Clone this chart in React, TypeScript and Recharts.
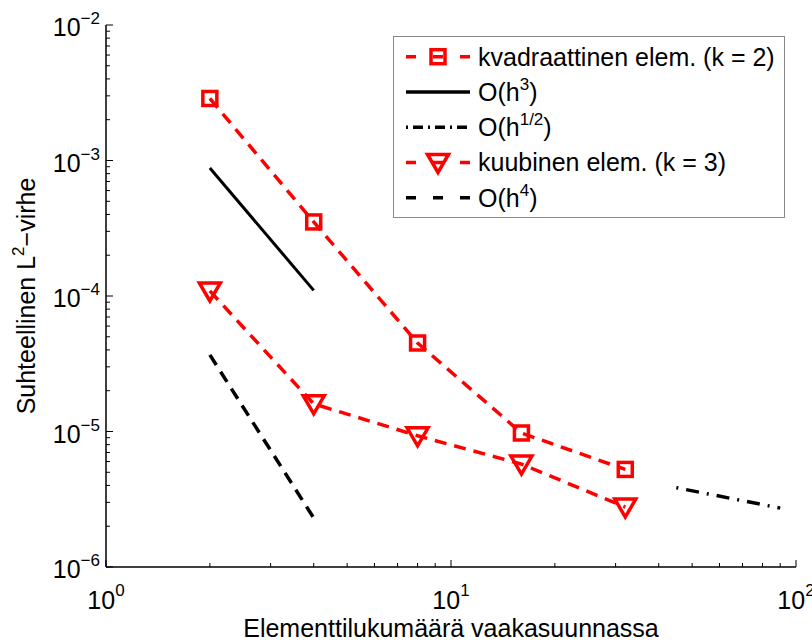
import React from 'react';
import { ComposedChart, Line, XAxis, YAxis, Legend } from 'recharts';

// elements per direction vs relative L2 error
const elements = [2, 4, 8, 16, 32];
const quadraticError = [2.87e-3, 3.52e-4, 4.5e-5, 9.75e-6, 5.25e-6];
const cubicError = [1.09e-4, 1.6e-5, 9.3e-6, 5.75e-6, 2.77e-6];

// reference slopes
const h3X = [2, 4];
const h3Y = [8.8e-4, 1.1e-4];
const hHalfX = [45, 90];
const hHalfY = [3.85e-6, 2.72e-6];
const h4X = [2, 4];
const h4Y = [3.68e-5, 2.3e-6];

const xTicks = [1, 2, 3, 4, 5, 6, 7, 8, 9, 10, 20, 30, 40, 50, 60, 70, 80, 90, 100];
const xMajor = [1, 10, 100];
const yTicks = [
  1e-6, 2e-6, 3e-6, 4e-6, 5e-6, 6e-6, 7e-6, 8e-6, 9e-6,
  1e-5, 2e-5, 3e-5, 4e-5, 5e-5, 6e-5, 7e-5, 8e-5, 9e-5,
  1e-4, 2e-4, 3e-4, 4e-4, 5e-4, 6e-4, 7e-4, 8e-4, 9e-4,
  1e-3, 2e-3, 3e-3, 4e-3, 5e-3, 6e-3, 7e-3, 8e-3, 9e-3,
  1e-2,
];
const yMajor = [1e-6, 1e-5, 1e-4, 1e-3, 1e-2];

const toRows = (xs: number[], ys: number[]) => xs.map((x, i) => ({ x, y: ys[i] }));

const FONT = '"Liberation Sans", Arial, Helvetica, sans-serif';
const RED = '#ff0000';

const expLabel = (v: number) => {
  const e = Math.round(Math.log10(v));
  return e < 0 ? '\u2212' + Math.abs(e) : String(e);
};

const isMajor = (list: number[], v: number) => list.some((m) => Math.abs(m - v) / m < 1e-9);

const BottomTick = (props: any) => {
  const { x, y, payload } = props;
  const major = isMajor(xMajor, payload.value);
  return (
    <g>
      <line x1={x} x2={x} y1={y} y2={y - (major ? 7 : 4)} stroke="#000" strokeWidth={1} />
      {major && (
        <text x={x} y={y + 42} textAnchor="middle" fontSize={25} fontFamily={FONT} fill="#000">
          10<tspan dy={-13} fontSize={17}>{expLabel(payload.value)}</tspan>
        </text>
      )}
    </g>
  );
};

const TopTick = (props: any) => {
  const { x, y, payload } = props;
  const major = isMajor(xMajor, payload.value);
  return <line x1={x} x2={x} y1={y} y2={y + (major ? 7 : 4)} stroke="#000" strokeWidth={1} />;
};

const LeftTick = (props: any) => {
  const { x, y, payload } = props;
  const major = isMajor(yMajor, payload.value);
  return (
    <g>
      <line x1={x} x2={x + (major ? 7 : 4)} y1={y} y2={y} stroke="#000" strokeWidth={1} />
      {major && (
        <text x={x - 6} y={y + 11} textAnchor="end" fontSize={25} fontFamily={FONT} fill="#000">
          10<tspan dy={-12} fontSize={17}>{expLabel(payload.value)}</tspan>
        </text>
      )}
    </g>
  );
};

const RightTick = (props: any) => {
  const { x, y, payload } = props;
  const major = isMajor(yMajor, payload.value);
  return <line x1={x} x2={x - (major ? 7 : 4)} y1={y} y2={y} stroke="#000" strokeWidth={1} />;
};

const Square = ({ cx, cy }: { cx: number; cy: number }) => (
  <rect x={cx - 7} y={cy - 7} width={14} height={14} fill="none" stroke={RED} strokeWidth={3.5} />
);

const Triangle = ({ cx, cy }: { cx: number; cy: number }) => (
  <path
    d={`M${cx - 10.5},${cy - 8} L${cx + 10.5},${cy - 8} L${cx},${cy + 10} Z`}
    fill="none"
    stroke={RED}
    strokeWidth={3.5}
  />
);

const legendRows = [
  { label: 'kvadraattinen elem. (k = 2)', sup: '', color: RED, dash: '10 17 10 17 10', marker: 'square' },
  { label: 'O(h', sup: '3', color: '#000', dash: '', marker: '' },
  { label: 'O(h', sup: '1/2', color: '#000', dash: '2 5 10 5', marker: '' },
  { label: 'kuubinen elem. (k = 3)', sup: '', color: RED, dash: '10 17 10 17 10', marker: 'triangle' },
  { label: 'O(h', sup: '4', color: '#000', dash: '10 17 10 17 10', marker: '' },
];

const LegendBox = () => (
  <div style={{ width: 392, height: 182, border: '1px solid #888', background: '#fff', boxSizing: 'border-box' }}>
    <svg width={390} height={180} style={{ display: 'block' }}>
      {legendRows.map((r, i) => {
        const cy = 19.7 + i * 35.25;
        return (
          <g key={i}>
            <line x1={12} x2={76} y1={cy} y2={cy} stroke={r.color} strokeWidth={3.5} strokeDasharray={r.dash || undefined} />
            {r.marker === 'square' && <Square cx={44} cy={cy} />}
            {r.marker === 'triangle' && <Triangle cx={44} cy={cy} />}
            <text x={84} y={cy + 9} fontSize={25} fontFamily={FONT} fill="#000">
              {r.label}
              {r.sup && (
                <>
                  <tspan dy={-11} fontSize={17}>{r.sup}</tspan>
                  <tspan dy={11} fontSize={25}>)</tspan>
                </>
              )}
            </text>
          </g>
        );
      })}
    </svg>
  </div>
);

export default function App() {
  return (
    <div style={{ position: 'absolute', left: 0, top: 0, background: '#fff' }}>
      <ComposedChart width={812} height={644} margin={{ top: 25, right: 16, bottom: 0, left: 0 }}>
        <XAxis
          xAxisId={0}
          dataKey="x"
          type="number"
          scale="log"
          domain={[1, 100]}
          allowDataOverflow
          ticks={xTicks}
          interval={0}
          height={77}
          tickSize={0}
          tickMargin={0}
          tickLine={false}
          tick={<BottomTick />}
          axisLine={{ stroke: '#000', strokeWidth: 1.5 }}
          label={{
            content: () => (
              <text x={451} y={637} textAnchor="middle" fontSize={25} fontFamily={FONT} fill="#000">
                Elementtilukumäärä vaakasuunnassa
              </text>
            ),
          }}
        />
        <XAxis
          xAxisId="top"
          orientation="top"
          dataKey="x"
          type="number"
          scale="log"
          domain={[1, 100]}
          allowDataOverflow
          ticks={xTicks}
          interval={0}
          height={0}
          tickSize={0}
          tickMargin={0}
          tickLine={false}
          tick={<TopTick />}
          axisLine={{ stroke: '#000', strokeWidth: 1.5 }}
        />
        <YAxis
          yAxisId={0}
          type="number"
          scale="log"
          domain={[1e-6, 1e-2]}
          allowDataOverflow
          ticks={yTicks}
          interval={0}
          width={106}
          tickSize={0}
          tickMargin={0}
          tickLine={false}
          tick={<LeftTick />}
          axisLine={{ stroke: '#000', strokeWidth: 1.5 }}
          label={{
            content: () => (
              <text x={35} y={296} transform="rotate(-90 35 296)" textAnchor="middle" fontSize={25} fontFamily={FONT} fill="#000">
                Suhteellinen L<tspan dy={-11} fontSize={17}>2</tspan>
                <tspan dy={11} fontSize={25}>{'\u2212virhe'}</tspan>
              </text>
            ),
          }}
        />
        <YAxis
          yAxisId="right"
          orientation="right"
          type="number"
          scale="log"
          domain={[1e-6, 1e-2]}
          allowDataOverflow
          ticks={yTicks}
          interval={0}
          width={0}
          tickSize={0}
          tickMargin={0}
          tickLine={false}
          tick={<RightTick />}
          axisLine={{ stroke: '#000', strokeWidth: 1.5 }}
        />
        <Legend
          layout="vertical"
          align="center"
          verticalAlign="middle"
          content={() => <LegendBox />}
          wrapperStyle={{ left: 393, top: 36, width: 392, height: 182 }}
        />
        <Line
          data={toRows(elements, quadraticError)}
          dataKey="y"
          stroke={RED}
          strokeWidth={3.5}
          strokeDasharray="12 8"
          dot={(p: any) => <Square key={`sq-${p.index}`} cx={p.cx} cy={p.cy} />}
          activeDot={false}
          isAnimationActive={false}
        />
        <Line
          data={toRows(h3X, h3Y)}
          dataKey="y"
          stroke="#000"
          strokeWidth={3}
          dot={false}
          activeDot={false}
          isAnimationActive={false}
        />
        <Line
          data={toRows(hHalfX, hHalfY)}
          dataKey="y"
          stroke="#000"
          strokeWidth={3.5}
          strokeDasharray="2 8 13 8"
          dot={false}
          activeDot={false}
          isAnimationActive={false}
        />
        <Line
          data={toRows(elements, cubicError)}
          dataKey="y"
          stroke={RED}
          strokeWidth={3.5}
          strokeDasharray="12 8"
          dot={(p: any) => <Triangle key={`tr-${p.index}`} cx={p.cx} cy={p.cy} />}
          activeDot={false}
          isAnimationActive={false}
        />
        <Line
          data={toRows(h4X, h4Y)}
          dataKey="y"
          stroke="#000"
          strokeWidth={3.5}
          strokeDasharray="12 8"
          dot={false}
          activeDot={false}
          isAnimationActive={false}
        />
      </ComposedChart>
    </div>
  );
}
